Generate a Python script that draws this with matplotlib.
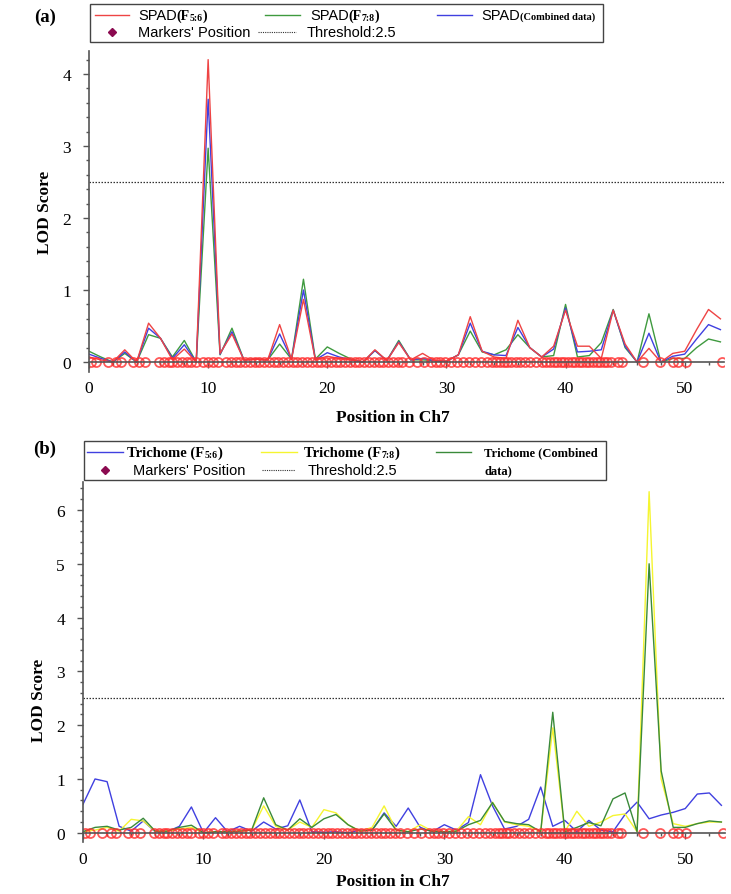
import matplotlib
matplotlib.use("Agg")
import matplotlib.pyplot as plt
from matplotlib.lines import Line2D
from matplotlib.patches import Rectangle
import numpy as np

W, H = 731, 895

# ---------------- data ----------------
positions = list(range(0, 54))

spad_f56 = [0.07, 0.03, 0.0, 0.17, 0.0, 0.54, 0.33, 0.03, 0.18, 0.0,
            4.2, 0.12, 0.39, 0.03, 0.04, 0.03, 0.52, 0.04, 0.87, 0.03,
            0.08, 0.05, 0.03, 0.0, 0.17, 0.02, 0.27, 0.03, 0.12, 0.02,
            0.01, 0.1, 0.63, 0.15, 0.07, 0.05, 0.58, 0.2, 0.07, 0.22,
            0.72, 0.22, 0.22, 0.05, 0.72, 0.25, 0.0, 0.19, 0.0, 0.12,
            0.15, 0.45, 0.73, 0.6]
spad_f78 = [0.15, 0.07, 0.0, 0.12, 0.0, 0.38, 0.33, 0.07, 0.3, 0.0,
            2.97, 0.1, 0.47, 0.03, 0.04, 0.03, 0.25, 0.04, 1.15, 0.04,
            0.21, 0.12, 0.04, 0.0, 0.16, 0.02, 0.3, 0.03, 0.03, 0.02,
            0.01, 0.1, 0.43, 0.14, 0.1, 0.17, 0.38, 0.2, 0.07, 0.09,
            0.8, 0.07, 0.09, 0.27, 0.73, 0.2, 0.0, 0.67, 0.0, 0.05,
            0.05, 0.2, 0.32, 0.28]
spad_comb = [0.11, 0.05, 0.0, 0.14, 0.0, 0.47, 0.33, 0.05, 0.24, 0.0,
             3.65, 0.11, 0.42, 0.03, 0.04, 0.03, 0.39, 0.04, 1.0, 0.03,
             0.13, 0.07, 0.03, 0.0, 0.16, 0.02, 0.28, 0.03, 0.05, 0.02,
             0.01, 0.1, 0.54, 0.15, 0.1, 0.09, 0.48, 0.2, 0.07, 0.18,
             0.75, 0.14, 0.15, 0.17, 0.72, 0.22, 0.0, 0.4, 0.0, 0.08,
             0.11, 0.32, 0.52, 0.45]

tri_f56 = [0.53, 1.0, 0.95, 0.12, 0.03, 0.22, 0.02, 0.02, 0.12, 0.48,
           0.0, 0.28, 0.02, 0.12, 0.03, 0.2, 0.07, 0.13, 0.61, 0.02,
           0.01, 0.02, 0.0, 0.05, 0.05, 0.37, 0.12, 0.46, 0.1, 0.02,
           0.15, 0.05, 0.19, 1.08, 0.5, 0.07, 0.12, 0.25, 0.85, 0.12,
           0.23, 0.02, 0.23, 0.05, 0.02, 0.34, 0.57, 0.26, 0.33, 0.38,
           0.45, 0.72, 0.74, 0.51]
tri_f78 = [0.02, 0.05, 0.1, 0.03, 0.25, 0.22, 0.03, 0.03, 0.07, 0.1,
           0.0, 0.02, 0.02, 0.03, 0.05, 0.5, 0.12, 0.05, 0.2, 0.1,
           0.43, 0.37, 0.15, 0.03, 0.1, 0.5, 0.05, 0.02, 0.15, 0.03,
           0.02, 0.03, 0.3, 0.15, 0.57, 0.2, 0.15, 0.12, 0.02, 1.95,
           0.02, 0.4, 0.12, 0.2, 0.32, 0.35, 0.02, 6.34, 1.0, 0.17,
           0.12, 0.17, 0.2, 0.2]
tri_comb = [0.02, 0.1, 0.12, 0.05, 0.1, 0.27, 0.03, 0.03, 0.1, 0.14,
            0.0, 0.02, 0.02, 0.03, 0.05, 0.65, 0.15, 0.05, 0.26, 0.1,
            0.26, 0.34, 0.15, 0.03, 0.05, 0.35, 0.05, 0.02, 0.07, 0.03,
            0.02, 0.03, 0.15, 0.23, 0.56, 0.21, 0.17, 0.15, 0.02, 2.24,
            0.02, 0.1, 0.19, 0.13, 0.63, 0.74, 0.02, 5.0, 1.15, 0.1,
            0.1, 0.17, 0.22, 0.2]

marker_pos = [0.2, 0.6, 1.6, 2.3, 2.7, 3.7, 4.2, 4.7, 5.9, 6.3, 6.7, 7.0, 7.4,
              7.8, 8.2, 8.6, 9.0, 9.6, 10.0, 10.4, 10.8, 11.5, 11.9, 12.3, 12.7,
              13.1, 13.5, 13.9, 14.3, 14.7, 15.1, 15.5, 15.9, 16.3, 16.7, 17.1,
              17.5, 17.9, 18.3, 18.7, 19.1, 19.5, 19.9, 20.3, 20.7, 21.1, 21.5,
              21.9, 22.3, 22.7, 23.1, 23.5, 23.9, 24.3, 24.7, 25.1, 25.5, 25.9,
              26.3, 26.9, 27.5, 28.1, 28.7, 29.1, 29.5, 29.9, 30.4, 30.9, 31.4,
              31.9, 32.4, 32.9, 33.4, 33.8, 34.2, 34.5, 34.8, 35.1, 35.4, 35.8,
              36.2, 36.6, 37.0, 37.5, 38.0, 38.4, 38.7, 39.0, 39.3, 39.6, 39.9,
              40.2, 40.5, 40.8, 41.1, 41.4, 41.7, 42.0, 42.3, 42.6, 42.9, 43.2,
              43.5, 43.8, 44.4, 44.7, 46.5, 47.9, 49.0, 49.4, 50.1, 53.1]

threshold = 2.5

# ---------------- style ----------------
SANS = "Liberation Sans"
SERIF = "Liberation Serif"
RED = "#ee4444"
GREEN = "#3f9a3f"
BLUE = "#4040e0"
YELLOW = "#f5f530"
DGREEN = "#3a8a3a"
MRED = "#ff3030"
AXC = "#555555"

fig = plt.figure(figsize=(W / 100, H / 100), dpi=100)
renderer = fig.canvas.get_renderer()


def fx(px):
    return px / W


def fy(py):
    return 1 - py / H


def make_axes(left, right, top, ylo, yhi, ppu):
    bottom = top + (yhi - ylo) * ppu
    ax = fig.add_axes([fx(left), fy(bottom), (right - left) / W, (bottom - top) / H])
    ax.set_ylim(ylo, yhi)
    ax.set_xlim(0, 53.3)
    for s in ("top", "right"):
        ax.spines[s].set_visible(False)
    ax.spines["bottom"].set_position(("data", 0))
    for s in ("left", "bottom"):
        ax.spines[s].set_color(AXC)
        ax.spines[s].set_linewidth(1.2)
    ax.set_xticks(np.arange(0, 54, 10))
    ax.set_xticks(np.arange(0, 54, 2), minor=True)
    ax.tick_params(axis="both", which="major", direction="out", length=4,
                   width=1, color=AXC, labelsize=12.5, pad=9)
    ax.tick_params(axis="both", which="minor", direction="out", length=2.5,
                   width=1, color=AXC)
    ax.axhline(threshold, color="#333333", lw=0.9, ls=(0, (1.2, 1.2)))
    return ax


# ---------------- panel (a) ----------------
axa = make_axes(89, 724, 52, -0.14, 4.32, 72)
axa.set_yticks([0, 1, 2, 3, 4])
axa.set_yticks(np.arange(0, 4.31, 0.2), minor=True)
axa.plot(positions, spad_f78, color=GREEN, lw=1.0)
axa.plot(positions, spad_comb, color=BLUE, lw=1.0)
axa.plot(positions, spad_f56, color=RED, lw=1.0)
axa.plot(marker_pos, [0] * len(marker_pos), ls="none", marker="o", ms=6.5,
         mfc="none", mec=MRED, mew=1.3, clip_on=True, alpha=0.8)
for lab in axa.get_xticklabels() + axa.get_yticklabels():
    lab.set_fontfamily(SERIF)

# ---------------- panel (b) ----------------
axb = make_axes(83, 725, 483, -0.17, 6.52, 53.8)
axb.set_yticks([0, 1, 2, 3, 4, 5, 6])
axb.set_yticks(np.arange(0, 6.51, 0.2), minor=True)
axb.plot(positions, tri_f56, color=BLUE, lw=1.0)
axb.plot(positions, tri_f78, color=YELLOW, lw=1.0)
axb.plot(positions, tri_comb, color=DGREEN, lw=1.0)
axb.plot(marker_pos, [0] * len(marker_pos), ls="none", marker="o", ms=6.5,
         mfc="none", mec=MRED, mew=1.3, clip_on=True, alpha=0.8)
for lab in axb.get_xticklabels() + axb.get_yticklabels():
    lab.set_fontfamily(SERIF)

# ---------------- labels ----------------
lab_kw = dict(fontfamily=SERIF, fontweight="bold", fontsize=12.5)
fig.text(fx(45), fy(212), "LOD Score", rotation=90, ha="center", va="center", **lab_kw)
fig.text(fx(39), fy(700), "LOD Score", rotation=90, ha="center", va="center", **lab_kw)
fig.text(fx(393), fy(418), "Position in Ch7", ha="center", va="center", **lab_kw)
fig.text(fx(393), fy(882), "Position in Ch7", ha="center", va="center", **lab_kw)
fig.text(fx(45), fy(17), "(a)", ha="center", va="center", fontfamily=SERIF,
         fontweight="bold", fontsize=13.5)
fig.text(fx(45), fy(449), "(b)", ha="center", va="center", fontfamily=SERIF,
         fontweight="bold", fontsize=13.5)


# ---------------- legends (drawn in figure pixel space) ----------------
def pieces(x, y, items):
    for s, kw in items:
        kw = dict(kw)
        dy = kw.pop("dy", 0)
        t = fig.text(fx(x), fy(y + dy), s, ha="left", va="baseline", **kw)
        x += t.get_window_extent(renderer).width


def lline(x0, x1, y, **kw):
    fig.add_artist(Line2D([fx(x0), fx(x1)], [fy(y), fy(y)],
                          transform=fig.transFigure, **kw))


def lbox(x0, y0, x1, y1):
    fig.add_artist(Rectangle((fx(x0), fy(y1)), (x1 - x0) / W, (y1 - y0) / H,
                             transform=fig.transFigure, fill=False,
                             ec="#444444", lw=1.0))


def sans(sz=10.5):
    return dict(fontfamily=SANS, fontsize=sz)


def sb(sz):
    return dict(fontfamily=SERIF, fontweight="bold", fontsize=sz)


# legend (a)
lbox(90, 5, 603, 43)
r1, r2 = 20, 37
lline(95, 129, r1 - 4, color=RED, lw=1.0)
pieces(138, r1, [("SPAD", sans()), ("(F", sb(10)), ("5:6", dict(sb(7), dy=1)), (")", sb(10))])
lline(265, 300, r1 - 4, color=GREEN, lw=1.0)
pieces(310, r1, [("SPAD", sans()), ("(F", sb(10)), ("7:8", dict(sb(7), dy=1)), (")", sb(10))])
lline(437, 472, r1 - 4, color=BLUE, lw=1.0)
pieces(481, r1, [("SPAD", sans()), ("(Combined data)", sb(7.5))])
fig.add_artist(Line2D([fx(112)], [fy(r2 - 4)], transform=fig.transFigure,
                      marker="D", ms=4.5, color="#8b0a50", ls="none"))
pieces(138, r2, [("Markers' Position", sans())])
lline(258, 296, r2 - 4, color="#333333", lw=0.8, ls=(0, (1, 1)))
pieces(307, r2, [("Threshold:2.5", sans())])

# legend (b)
lbox(84, 442, 606, 481)
r1, r2 = 457, 475
lline(87, 123, r1 - 4, color=BLUE, lw=1.0)
pieces(127, r1, [("Trichome (F", sb(10.5)), ("5:6", dict(sb(7), dy=1)), (")", sb(10.5))])
lline(261, 297, r1 - 4, color=YELLOW, lw=1.0)
pieces(304, r1, [("Trichome (F", sb(10.5)), ("7:8", dict(sb(7), dy=1)), (")", sb(10.5))])
lline(436, 471, r1 - 4, color=DGREEN, lw=1.0)
pieces(484, r1 - 1, [("Trichome (Combined", sb(9))])
pieces(484, r2 - 1, [("data)", sb(9))])
fig.add_artist(Line2D([fx(105)], [fy(r2 - 4)], transform=fig.transFigure,
                      marker="D", ms=4.5, color="#8b0a50", ls="none"))
pieces(133, r2, [("Markers' Position", sans())])
lline(262, 295, r2 - 4, color="#333333", lw=0.8, ls=(0, (1, 1)))
pieces(308, r2, [("Threshold:2.5", sans())])

fig.savefig("out.png", dpi=100)
